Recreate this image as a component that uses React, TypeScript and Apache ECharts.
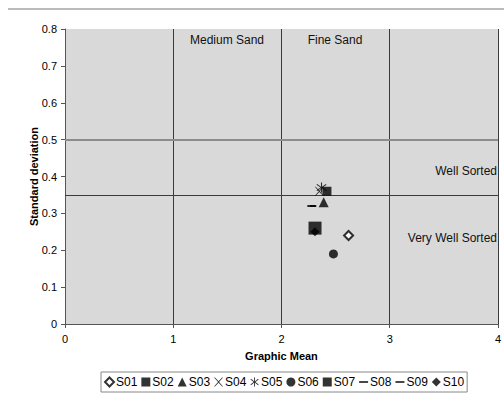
import React, { useEffect, useRef } from "react";
import * as echarts from "echarts";

const sampleNames = ["S01", "S02", "S03", "S04", "S05", "S06", "S07", "S08", "S09", "S10"];
const graphicMean = [2.62, 2.42, 2.39, 2.35, 2.37, 2.48, 2.31, 2.29, 2.28, 2.31];
const stdDev = [0.24, 0.36, 0.33, 0.36, 0.37, 0.19, 0.26, 0.32, 0.32, 0.25];
const xTicks = [0, 1, 2, 3, 4];
const sortingLines = [0.5, 0.35];
const sandLabels = ["Medium Sand", "Fine Sand"];
const sortLabels = ["Well Sorted", "Very Well Sorted"];

const XPATH = "path://M0,0L1,0L5,4.2L9,0L10,0L5.6,5L10,10L9,10L5,5.8L1,10L0,10L4.4,5Z";
const STARPATH =
  "path://M4.5,0H5.5V4.2L9,1.5L9.6,2.3L6,5L9.6,7.7L9,8.5L5.5,5.8V10H4.5V5.8L1,8.5L0.4,7.7L4,5L0.4,2.3L1,1.5L4.5,4.2Z";
const DASH = "path://M0,0H10V2H0Z";

const symbols: any[] = [
  "emptyDiamond",
  "rect",
  "triangle",
  XPATH,
  STARPATH,
  "circle",
  "rect",
  DASH,
  DASH,
  "diamond",
];
const sizes: any[] = [9, 9, 10, 9, 10, 9, 13, [6, 2], [9, 2], 9];

export default function App() {
  const ref = useRef<HTMLDivElement>(null);
  useEffect(() => {
    if (!ref.current) return;
    const chart = echarts.init(ref.current, null, { renderer: "svg" });
    const font = "Liberation Sans, Arial, sans-serif";
    const series: any[] = sampleNames.map((name, i) => ({
      name,
      type: "scatter",
      data: [[graphicMean[i], stdDev[i]]],
      symbol: symbols[i],
      symbolSize: sizes[i],
      itemStyle: {
        color: "#000000",
        borderColor: "#000000",
        borderWidth: i === 0 ? 1 : 0,
      },
      z: 10 - (i === 9 ? 1 : 0),
    }));
    series.push({
      name: "lines",
      type: "scatter",
      data: [],
      silent: true,
      markLine: {
        symbol: "none",
        silent: true,
        label: { show: false },
        data: [
          { yAxis: sortingLines[0], lineStyle: { color: "#8c8c8c", width: 2, type: "solid" } },
          { yAxis: sortingLines[1], lineStyle: { color: "#3a3a3a", width: 1, type: "solid" } },
        ],
      },
    });
    const ann = (text: string, x: number, y: number, align: string) => ({
      type: "text",
      x,
      y,
      style: { text, fontSize: 12, fill: "#111", align, verticalAlign: "middle", fontFamily: font },
    });
    chart.setOption({
      animation: false,
      textStyle: { fontFamily: font },
      grid: {
        left: 65,
        right: 6,
        top: 29,
        bottom: 77,
        show: true,
        backgroundColor: "#d9d9d9",
        borderWidth: 0,
      },
      xAxis: {
        type: "value",
        min: 0,
        max: 4,
        interval: 1,
        data: xTicks,
        name: "Graphic Mean",
        nameLocation: "middle",
        nameGap: 26,
        nameTextStyle: { fontWeight: "bold", fontSize: 11, color: "#000", fontFamily: font },
        axisLine: { lineStyle: { color: "#555" } },
        axisTick: { show: true, length: 4, lineStyle: { color: "#555" } },
        axisLabel: { color: "#000", fontSize: 11, margin: 9, fontFamily: font },
        splitLine: { show: true, lineStyle: { color: "#3a3a3a", width: 1 } },
      },
      yAxis: {
        type: "value",
        min: 0,
        max: 0.8,
        interval: 0.1,
        name: "Standard deviation",
        nameLocation: "middle",
        nameGap: 26,
        nameMoveOverlap: false,
        nameTextStyle: { fontWeight: "bold", fontSize: 11, color: "#000", fontFamily: font },
        axisLine: { show: true, lineStyle: { color: "#555" } },
        axisTick: { show: true, length: 4, lineStyle: { color: "#555" } },
        axisLabel: { color: "#000", fontSize: 11, margin: 8, fontFamily: font },
        splitLine: { show: false },
      },
      legend: {
        data: sampleNames,
        left: 101,
        top: 372,
        orient: "horizontal",
        borderColor: "#888",
        borderWidth: 1,
        padding: [4, 3, 4, 3],
        itemGap: 4,
        itemWidth: 9,
        itemHeight: 9,
        textStyle: { fontSize: 12, color: "#000", padding: [0, 0, 0, -3], fontFamily: font },
      },
      graphic: [
        { type: "line", shape: { x1: 8, y1: 9, x2: 504, y2: 9 }, style: { stroke: "#777", lineWidth: 1 } },
        ann(sandLabels[0], 227, 40, "center"),
        ann(sandLabels[1], 335, 40, "center"),
        ann(sortLabels[0], 497, 171, "right"),
        ann(sortLabels[1], 497, 238, "right"),
      ],
      series,
    });
    return () => chart.dispose();
  }, []);
  return <div ref={ref} style={{ width: 504, height: 401, position: "absolute", left: 0, top: 0 }} />;
}
